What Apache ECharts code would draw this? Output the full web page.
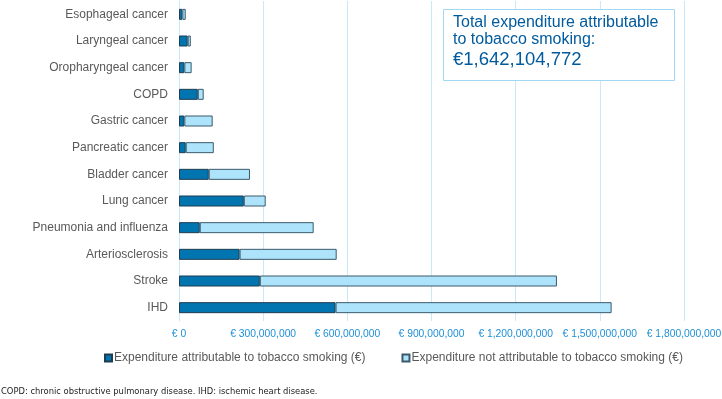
<!DOCTYPE html>
<html>
<head>
<meta charset="utf-8">
<script src="https://cdn.jsdelivr.net/npm/echarts@6/dist/echarts.min.js"></script>
<style>
  html, body { margin: 0; padding: 0; background: #fff; }
  #costChart { width: 722px; height: 399px; }
</style>
</head>
<body>
<div id="costChart"></div>
<script>
// diseases, top to bottom
const diseases = ['Esophageal cancer', 'Laryngeal cancer', 'Oropharyngeal cancer', 'COPD',
  'Gastric cancer', 'Pancreatic cancer', 'Bladder cancer', 'Lung cancer',
  'Pneumonia and influenza', 'Arteriosclerosis', 'Stroke', 'IHD']
// millions of euro
const attributable = [12, 31, 19, 67, 19, 24, 106, 231, 74, 216, 288, 558]
const notAttributable = [12, 11, 26, 21, 101, 100, 147, 78, 406, 346, 1059, 984]
const seriesNames = ['Expenditure attributable to tobacco smoking (€)', 'Expenditure not attributable to tobacco smoking (€)']
const totalText = ['Total expenditure attributable', 'to tobacco smoking:', '€1,642,104,772']
const footnote = 'COPD: chronic obstructive pulmonary disease. IHD: ischemic heart disease.'

const toEuro = v => v * 1e6
const font = 'Liberation Sans, Arial, sans-serif'

let myChart = echarts.init(document.getElementById('costChart'))
myChart.setOption({
  animation: false,
  textStyle: {fontFamily: font},
  grid: {
    left: 179,
    right: 38,
    top: 1,
    bottom: 78,
    outerBoundsMode: 'none'
  },
  legend: {
    data: seriesNames,
    left: 99,
    top: 347,
    itemWidth: 7,
    itemHeight: 7,
    itemGap: 36,
    icon: 'rect',
    textStyle: {color: '#595959', fontSize: 12, padding: [0, 0, 0, -3]}
  },
  xAxis: {
    type: 'value',
    min: 0,
    max: 1800e6,
    interval: 300e6,
    axisLine: {show: false},
    axisTick: {show: false},
    splitLine: {lineStyle: {color: '#c8e9f8', width: 1}},
    axisLabel: {
      color: '#1f8fd6',
      fontSize: 10.3,
      margin: 8,
      showMaxLabel: true,
      hideOverlap: false,
      formatter: v => '€ ' + v.toLocaleString('en-US')
    }
  },
  yAxis: {
    type: 'category',
    inverse: true,
    data: diseases,
    axisTick: {show: false},
    axisLine: {lineStyle: {color: '#c8e9f8', width: 1}},
    axisLabel: {color: '#595959', fontSize: 12, margin: 11}
  },
  series: [
    {
      name: seriesNames[0],
      type: 'bar',
      stack: 'total',
      barWidth: 11,
      itemStyle: {color: '#0075b0', borderColor: '#203c50', borderWidth: 1},
      data: attributable.map(toEuro)
    },
    {
      name: seriesNames[1],
      type: 'bar',
      stack: 'total',
      barWidth: 11,
      itemStyle: {color: '#aee4fb', borderColor: '#3a5a6c', borderWidth: 1},
      data: notAttributable.map(toEuro)
    }
  ],
  graphic: [
    {
      type: 'rect',
      left: 443,
      top: 9,
      z: 100,
      shape: {width: 231, height: 71},
      style: {fill: '#fff', stroke: '#9fd8f3', lineWidth: 1}
    },
    {
      type: 'text',
      left: 453,
      top: 14,
      z: 101,
      style: {text: totalText[0] + '\n' + totalText[1], fill: '#005a9e', font: '16px ' + font, lineHeight: 17}
    },
    {
      type: 'text',
      left: 453,
      top: 50,
      z: 101,
      style: {text: totalText[2], fill: '#005a9e', font: '18.5px ' + font}
    },
    {
      type: 'text',
      left: 1,
      top: 387,
      style: {text: footnote, fill: '#222', font: '9.3px DejaVu Sans Condensed, sans-serif'}
    }
  ]
})
</script>
</body>
</html>
